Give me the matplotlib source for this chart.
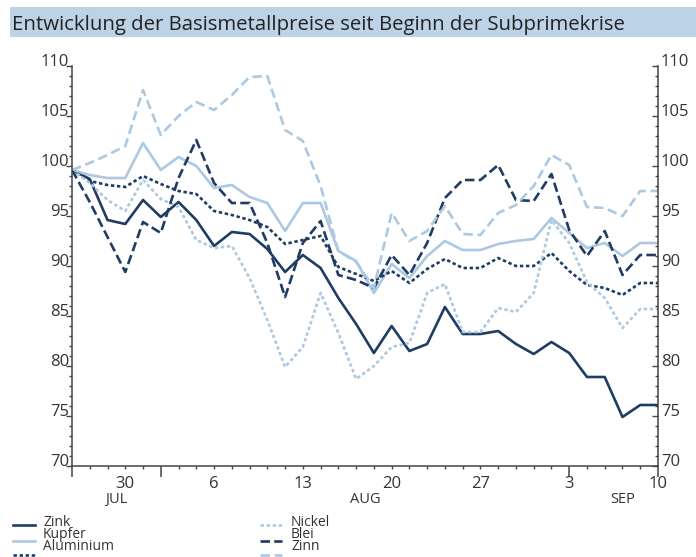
import numpy as np
import pandas as pd
import matplotlib
matplotlib.use("Agg")
import matplotlib.pyplot as plt
from matplotlib.lines import Line2D
from matplotlib.patches import Rectangle
from matplotlib.ticker import FixedLocator, MultipleLocator

plt.rcParams['font.family'] = ['Open Sans', 'DejaVu Sans']

# LME trading days, 25 Jul - 10 Sep 2007
dates = pd.bdate_range('2007-07-25', '2007-09-10')

zink = [99.6, 98.7, 94.6, 94.2, 96.6, 94.9, 96.4, 94.6, 92.0, 93.4, 93.2, 91.7,
        89.4, 91.1, 89.8, 86.8, 84.2, 81.3, 84.0, 81.5, 82.2, 85.9, 83.2, 83.2,
        83.5, 82.2, 81.2, 82.4, 81.3, 78.9, 78.9, 74.9, 76.1, 76.1]
kupfer = [99.6, 99.1, 98.8, 98.8, 102.3, 99.6, 100.9, 100.0, 97.8, 98.1, 96.9, 96.3,
          93.5, 96.3, 96.3, 91.5, 90.5, 87.3, 90.2, 88.8, 91.0, 92.5, 91.6, 91.6,
          92.2, 92.5, 92.7, 94.8, 93.3, 91.8, 92.3, 91.0, 92.3, 92.3]
aluminium = [99.6, 98.5, 98.1, 97.9, 99.0, 98.2, 97.5, 97.2, 95.5, 95.1, 94.6, 93.9,
             92.2, 92.6, 93.0, 89.9, 89.2, 88.5, 89.5, 88.3, 89.7, 90.7, 89.8, 89.8,
             90.8, 90.0, 90.0, 91.3, 89.5, 88.1, 87.8, 87.1, 88.3, 88.3]
nickel = [99.6, 98.3, 96.6, 95.5, 98.6, 96.7, 95.9, 92.6, 91.8, 92.0, 88.8, 84.6,
          79.9, 81.9, 87.3, 83.3, 78.7, 80.0, 81.9, 82.3, 87.3, 88.2, 83.4, 83.4,
          85.8, 85.4, 87.3, 94.6, 92.3, 88.4, 86.8, 83.8, 85.7, 85.7]
blei = [99.6, 96.4, 92.9, 89.4, 94.4, 93.3, 98.8, 102.6, 98.3, 96.3, 96.3, 92.3,
        86.9, 92.3, 94.5, 89.1, 88.6, 87.8, 91.1, 89.1, 92.3, 96.8, 98.6, 98.6,
        100.1, 96.6, 96.5, 99.2, 93.6, 91.0, 93.5, 89.1, 91.1, 91.1]
zinn = [99.6, 100.3, 101.1, 102.0, 107.6, 103.1, 105.0, 106.4, 105.6, 107.1, 108.9, 109.0,
        103.6, 102.5, 98.0, 91.5, 90.4, 87.8, 95.3, 92.5, 93.5, 96.0, 93.2, 93.1,
        95.3, 96.1, 98.0, 101.1, 100.1, 95.9, 95.8, 95.0, 97.5, 97.5]

names = ['Zink', 'Kupfer', 'Aluminium', 'Nickel', 'Blei', 'Zinn']
values = [zink, kupfer, aluminium, nickel, blei, zinn]

title = 'Entwicklung der Basismetallpreise seit Beginn der Subprimekrise'
month_names = {7: 'JUL', 8: 'AUG', 9: 'SEP'}

DARK = '#1f3c64'
LIGHT = '#adc8e1'
TXT = '#333333'
LW = 1.9
line_styles = {
    'Zink': dict(color=DARK, linestyle='-'),
    'Kupfer': dict(color=LIGHT, linestyle='-'),
    'Aluminium': dict(color=DARK, linestyle=(0, (1.3, 1.0))),
    'Nickel': dict(color=LIGHT, linestyle=(0, (1.3, 1.0))),
    'Blei': dict(color=DARK, linestyle=(0, (3.6, 1.6))),
    'Zinn': dict(color=LIGHT, linestyle=(0, (3.6, 1.8))),
}

W, H = 696, 557
fig = plt.figure(figsize=(W / 100, H / 100), dpi=100)


def fx(px):
    return px / W


def fy(py):
    return 1 - py / H


# title band
fig.add_artist(Rectangle((fx(10), fy(37)), fx(686), 30 / H, transform=fig.transFigure,
                         facecolor='#bcd2e6', edgecolor='none'))
fig.text(fx(12), fy(30), title, fontsize=14.7, color='#222222', va='baseline', ha='left')

ax = fig.add_axes([fx(72), fy(466), fx(586), 400 / H])
x = np.arange(len(dates))
for name, vals in zip(names, values):
    ax.plot(x, vals, linewidth=LW, label=name, **line_styles[name])

ax.set_xlim(0, len(dates) - 1)
ax.set_ylim(70, 110)

for side in ['top', 'right']:
    ax.spines[side].set_visible(False)
for side in ['left', 'bottom']:
    ax.spines[side].set_color('#444444')
    ax.spines[side].set_linewidth(1.1)

# y axis left
ax.yaxis.set_major_locator(MultipleLocator(5))
ax.yaxis.set_minor_locator(MultipleLocator(1))
ax.tick_params(axis='y', which='major', direction='out', length=4, width=1, color='#444444',
               labelsize=12, labelcolor=TXT, pad=-2)
ax.tick_params(axis='y', which='minor', direction='out', length=2.2, width=1, color='#444444')
for lab in ax.get_yticklabels():
    lab.set_verticalalignment('baseline')

# y axis right
ax2 = ax.twinx()
ax2.set_ylim(ax.get_ylim())
for side in ['top', 'left', 'bottom']:
    ax2.spines[side].set_visible(False)
ax2.spines['right'].set_color('#444444')
ax2.spines['right'].set_linewidth(1.1)
ax2.yaxis.set_major_locator(MultipleLocator(5))
ax2.yaxis.set_minor_locator(MultipleLocator(1))
ax2.tick_params(axis='y', which='major', direction='in', length=4, width=1, color='#444444',
                labelsize=12, labelcolor=TXT, pad=2)
ax2.tick_params(axis='y', which='minor', direction='in', length=2.2, width=1, color='#444444')
for lab in ax2.get_yticklabels():
    lab.set_verticalalignment('baseline')

# x axis: long ticks at month boundaries and ends, short ticks each trading day
month_start = [i for i in range(len(dates)) if i == 0 or dates[i].month != dates[i - 1].month]
long_ticks = sorted(set(month_start + [len(dates) - 1]))
ax.xaxis.set_major_locator(FixedLocator(long_ticks))
ax.xaxis.set_minor_locator(FixedLocator([i for i in x if i not in long_ticks]))
ax.tick_params(axis='x', which='major', direction='out', length=8, width=1.1, color='#444444',
               labelbottom=False)
ax.tick_params(axis='x', which='minor', direction='out', length=2.5, width=1, color='#444444')

xt = ax.get_xaxis_transform()
for i, d in enumerate(dates):
    if d.weekday() == 0 or i == len(dates) - 1:
        ax.text(i, -0.026, str(d.day), transform=xt, ha='center', va='top',
                fontsize=12, color=TXT)
for m, lab in month_names.items():
    idx = np.where(dates.month == m)[0]
    ax.text(idx.mean() + 0.5, -0.066, lab, transform=xt, ha='center', va='top',
            fontsize=10.5, color=TXT)

# legend drawn in two columns below the chart
rows_line = [525, 541, 555]
rows_text = [526, 538, 550]
cols = [(13, 35, 43), (260, 282, 291)]
for k, name in enumerate(names):
    c, r = divmod(k, 3)
    x0, x1, xt0 = cols[c]
    fig.add_artist(Line2D([fx(x0), fx(x1)], [fy(rows_line[r])] * 2, transform=fig.transFigure,
                          linewidth=LW, **line_styles[name]))
    fig.text(fx(xt0), fy(rows_text[r]), name, fontsize=10, color=TXT, va='baseline', ha='left')

fig.savefig('out.png', dpi=100)
